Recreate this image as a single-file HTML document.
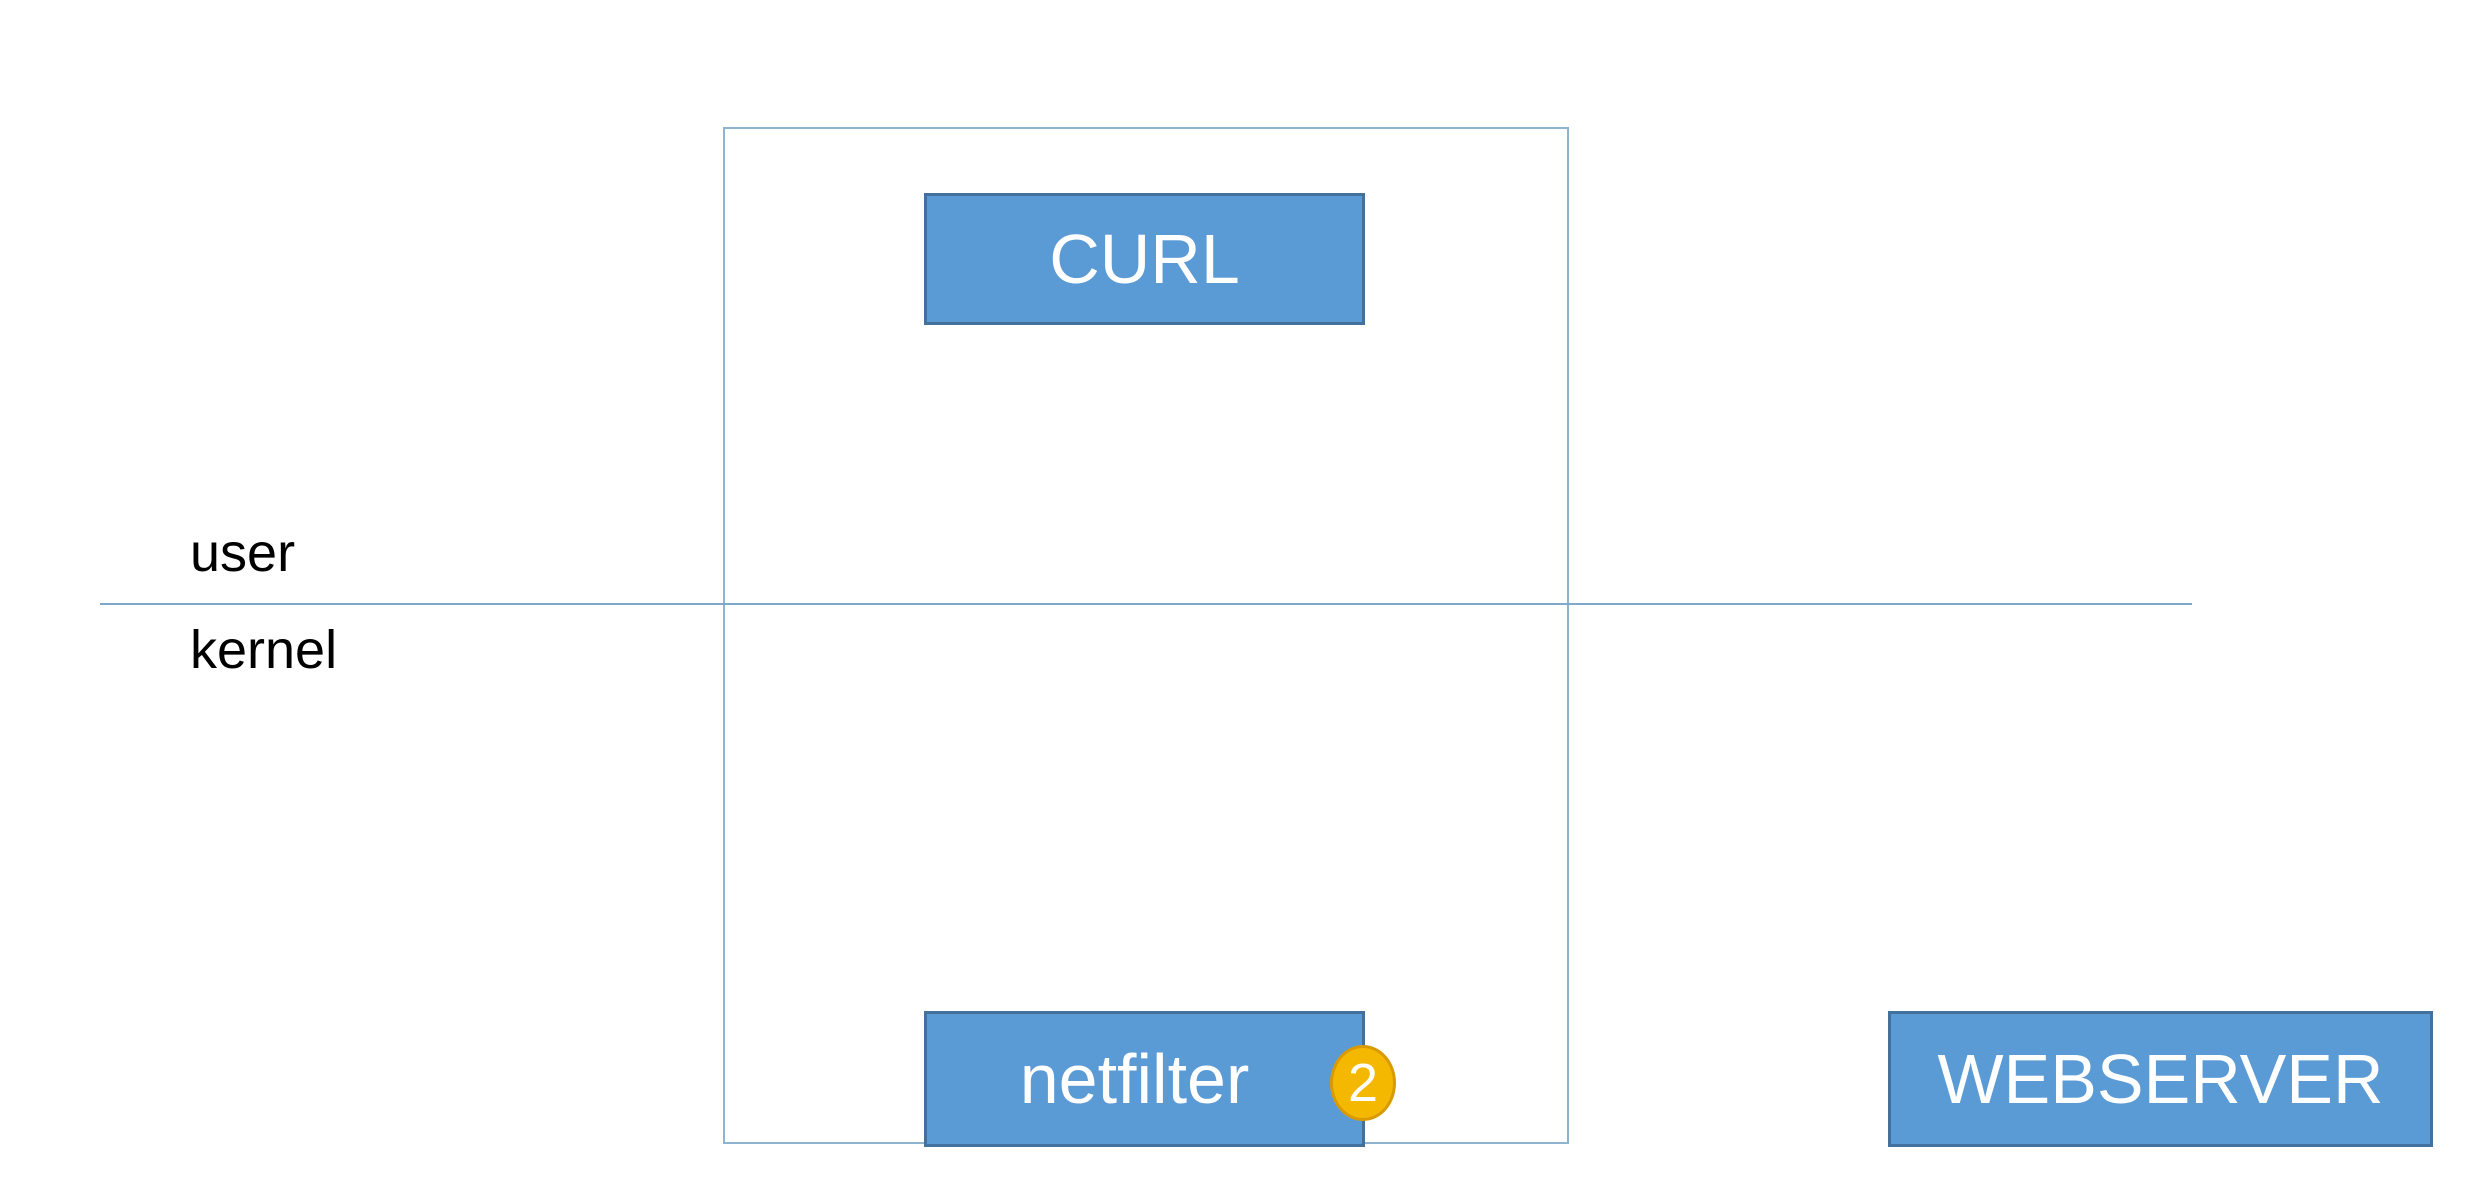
<!DOCTYPE html>
<html><head><meta charset="utf-8"><style>
html,body{margin:0;padding:0;background:#fff;}
body{width:2486px;height:1188px;position:relative;overflow:hidden;font-family:"Liberation Sans",sans-serif;}
.box{position:absolute;background:#5b9bd5;border:3px solid #41719c;box-sizing:border-box;color:#fff;display:flex;align-items:center;justify-content:center;font-size:70px;}
.t{position:absolute;font-size:54px;color:#000;}
</style></head><body>
<div style="position:absolute;left:723px;top:127px;width:846px;height:1017px;border:2px solid #8fb4cf;box-sizing:border-box;"></div>
<div style="position:absolute;left:100px;top:603px;width:2092px;height:2px;background:#7fa9c9;"></div>
<div class="t" style="left:190px;top:522px;">user</div>
<div class="t" style="left:190px;top:619px;">kernel</div>
<div class="box" style="left:924px;top:193px;width:441px;height:132px;">CURL</div>
<div class="box" style="left:924px;top:1011px;width:441px;height:136px;padding-right:20px;">netfilter</div>
<div class="box" style="left:1888px;top:1011px;width:545px;height:136px;">WEBSERVER</div>
<div style="position:absolute;left:1330px;top:1045px;width:66px;height:76px;border-radius:50%;background:#f5b800;border:3px solid #d99a00;box-sizing:border-box;color:#fff;font-size:54px;display:flex;align-items:center;justify-content:center;">2</div>
</body></html>
